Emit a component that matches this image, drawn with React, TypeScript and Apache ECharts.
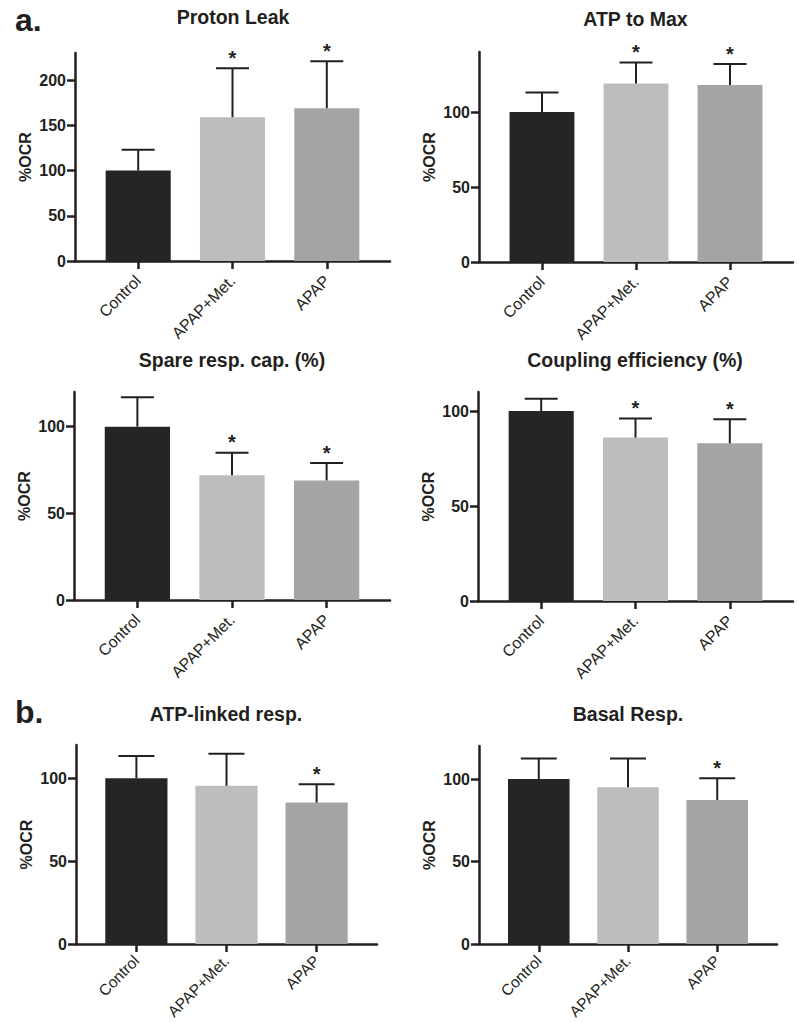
import React, { useEffect, useRef } from "react";
import * as echarts from "echarts";

// ---- data ----
const categories = ["Control", "APAP+Met.", "APAP"];
const categoryPositions = [0, 1, 2];
const barColors = ["#262425", "#bcbdbf", "#a3a4a6"];

const protonLeakMean = [100, 159, 169];
const protonLeakErr = [23, 54, 52];
const protonLeakSig = [false, true, true];
const protonLeakTicks = [0, 50, 100, 150, 200];

const atpToMaxMean = [100, 119, 118];
const atpToMaxErr = [13, 14, 14];
const atpToMaxSig = [false, true, true];
const atpToMaxTicks = [0, 50, 100];

const spareCapMean = [100, 72, 69];
const spareCapErr = [17, 13, 10];
const spareCapSig = [false, true, true];
const spareCapTicks = [0, 50, 100];

const couplingMean = [100, 86, 83];
const couplingErr = [6.5, 10, 12.7];
const couplingSig = [false, true, true];
const couplingTicks = [0, 50, 100];

const atpLinkedMean = [100, 95.4, 85.3];
const atpLinkedErr = [13.4, 19.3, 11.1];
const atpLinkedSig = [false, false, true];
const atpLinkedTicks = [0, 50, 100];

const basalMean = [100, 95, 87.3];
const basalErr = [12.4, 17.4, 13.1];
const basalSig = [false, false, true];
const basalTicks = [0, 50, 100];

const panelTitles = [
  "Proton Leak",
  "ATP to Max",
  "Spare resp. cap. (%)",
  "Coupling efficiency (%)",
  "ATP-linked resp.",
  "Basal Resp.",
];
const yAxisName = "%OCR";
const sectionLabels = ["a.", "b."];

// ---- layout (positions / styles only) ----
const FONT = '"Liberation Sans", Arial, Helvetica, sans-serif';
const INK = "#231f20";

const panels = [
  { mean: protonLeakMean, err: protonLeakErr, sig: protonLeakSig, ticks: protonLeakTicks, yMax: 230,
    l: 75, r: 390, t: 53, b: 261, tx: 233, ty: 17.2, cap: 33, lm: 17, lf: 16 },
  { mean: atpToMaxMean, err: atpToMaxErr, sig: atpToMaxSig, ticks: atpToMaxTicks, yMax: 140,
    l: 479, r: 793, t: 52, b: 262, tx: 635.5, ty: 19.2, cap: 33, lm: 17, lf: 16 },
  { mean: spareCapMean, err: spareCapErr, sig: spareCapSig, ticks: spareCapTicks, yMax: 120,
    l: 74, r: 390, t: 392, b: 600, tx: 232, ty: 360, cap: 33, lm: 17, lf: 16 },
  { mean: couplingMean, err: couplingErr, sig: couplingSig, ticks: couplingTicks, yMax: 110,
    l: 478, r: 793, t: 392, b: 601, tx: 635, ty: 360, cap: 33, lm: 17, lf: 16 },
  { mean: atpLinkedMean, err: atpLinkedErr, sig: atpLinkedSig, ticks: atpLinkedTicks, yMax: 120,
    l: 76, r: 377, t: 745, b: 944, tx: 226, ty: 714, cap: 36, lm: 14, lf: 15.5 },
  { mean: basalMean, err: basalErr, sig: basalSig, ticks: basalTicks, yMax: 120,
    l: 479, r: 777, t: 746, b: 944, tx: 628, ty: 714, cap: 36, lm: 14, lf: 15.5 },
];

const X_MIN = -0.67;
const X_MAX = 2.67;

function buildOption() {
  const grid: any[] = [];
  const xAxis: any[] = [];
  const yAxis: any[] = [];
  const series: any[] = [];
  const graphic: any[] = [];

  panels.forEach((p, i) => {
    const w = p.r - p.l;
    const spacing = w / (X_MAX - X_MIN);
    grid.push({ left: p.l, top: p.t, width: w, height: p.b - p.t, containLabel: false, outerBoundsMode: "none" });
    xAxis.push({
      type: "value",
      gridIndex: i,
      min: X_MIN,
      max: X_MAX,
      splitLine: { show: false },
      axisLine: { show: true, onZero: false, lineStyle: { color: INK, width: 2.5 } },
      axisTick: { show: true, customValues: categoryPositions, length: 8, lineStyle: { color: INK, width: 2.5 } },
      axisLabel: {
        customValues: categoryPositions,
        formatter: (v: number) => categories[Math.round(v)],
        rotate: 45,
        margin: p.lm,
        fontSize: p.lf,
        fontFamily: FONT,
        color: INK,
        hideOverlap: false,
      },
    });
    yAxis.push({
      type: "value",
      gridIndex: i,
      min: 0,
      max: p.yMax,
      splitLine: { show: false },
      axisLine: { show: true, onZero: false, lineStyle: { color: INK, width: 2.5 } },
      axisTick: { show: true, customValues: p.ticks, length: 8, lineStyle: { color: INK, width: 2.5 } },
      axisLabel: {
        customValues: p.ticks,
        fontSize: 16,
        fontWeight: "bold",
        fontFamily: FONT,
        color: INK,
        margin: 9,
      },
      name: yAxisName,
      nameLocation: "middle",
      nameRotate: 90,
      nameGap: 42,
      nameTextStyle: { fontSize: 16, fontWeight: "bold", fontFamily: FONT, color: INK },
    });
    series.push({
      type: "bar",
      xAxisIndex: i,
      yAxisIndex: i,
      barWidth: spacing * 0.69,
      data: p.mean.map((v, j) => ({ value: [categoryPositions[j], v], itemStyle: { color: barColors[j] } })),
      z: 2,
    });
    const cap = p.cap;
    series.push({
      type: "custom",
      xAxisIndex: i,
      yAxisIndex: i,
      z: 3,
      clip: false,
      data: p.mean.map((v, j) => [categoryPositions[j], v, v + p.err[j], p.sig[j] ? 1 : 0]),
      renderItem: (params: any, api: any) => {
        const x = api.value(0);
        const m = api.value(1);
        const top = api.value(2);
        const s = api.value(3);
        const pb = api.coord([x, m]);
        const pt = api.coord([x, top]);
        const children: any[] = [
          { type: "line", shape: { x1: pb[0], y1: pb[1], x2: pt[0], y2: pt[1] }, style: { stroke: INK, lineWidth: 2 } },
          { type: "line", shape: { x1: pt[0] - cap / 2, y1: pt[1], x2: pt[0] + cap / 2, y2: pt[1] }, style: { stroke: INK, lineWidth: 2 } },
        ];
        if (s) {
          children.push({
            type: "text",
            style: {
              text: "*",
              x: pt[0],
              y: pt[1] - 10.3,
              textAlign: "center",
              textVerticalAlign: "middle",
              font: `bold 20px ${FONT}`,
              fill: INK,
            },
          });
        }
        return { type: "group", children };
      },
    });
    graphic.push({
      type: "text",
      x: p.tx,
      y: p.ty,
      style: {
        text: panelTitles[i],
        textAlign: "center",
        textVerticalAlign: "middle",
        font: `bold 19.5px ${FONT}`,
        fill: INK,
      },
    });
  });

  graphic.push({
    type: "text",
    x: 15,
    y: 19.6,
    style: { text: sectionLabels[0], textAlign: "left", textVerticalAlign: "middle", font: `bold 32px ${FONT}`, fill: INK },
  });
  graphic.push({
    type: "text",
    x: 15,
    y: 712.2,
    style: { text: sectionLabels[1], textAlign: "left", textVerticalAlign: "middle", font: `bold 32px ${FONT}`, fill: INK },
  });

  return {
    animation: false,
    backgroundColor: "#ffffff",
    grid,
    xAxis,
    yAxis,
    series,
    graphic,
  };
}

export default function App() {
  const ref = useRef<HTMLDivElement>(null);
  useEffect(() => {
    if (!ref.current) return;
    const chart = echarts.init(ref.current, undefined, { renderer: "svg" });
    chart.setOption(buildOption() as any);
    return () => chart.dispose();
  }, []);
  return (
    <div
      ref={ref}
      style={{ position: "absolute", left: 0, top: 0, width: 800, height: 1022, background: "#fff" }}
    />
  );
}
